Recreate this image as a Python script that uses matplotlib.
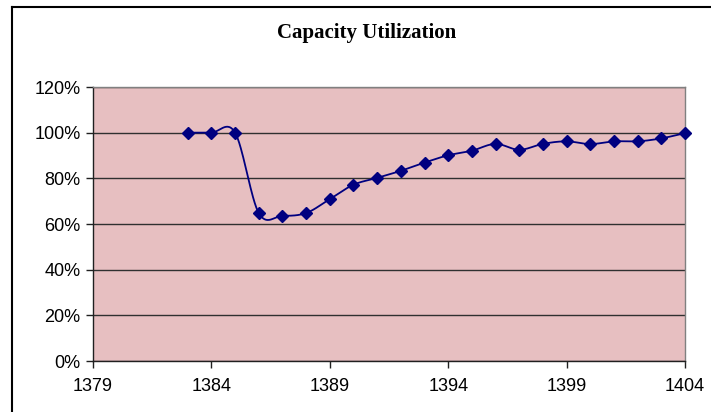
import numpy as np
import matplotlib
matplotlib.use("Agg")
import matplotlib.pyplot as plt
from matplotlib.ticker import FuncFormatter, MultipleLocator
from matplotlib.lines import Line2D

years = [1383, 1384, 1385, 1386, 1387, 1388, 1389, 1390, 1391, 1392, 1393,
         1394, 1395, 1396, 1397, 1398, 1399, 1400, 1401, 1402, 1403, 1404]
utilization = [100.0, 100.0, 100.0, 64.8, 63.6, 64.8, 70.9, 77.2, 80.2, 83.3, 86.9,
               90.1, 92.1, 95.1, 92.5, 95.1, 96.2, 95.0, 96.2, 96.2, 97.5, 99.8]
x_ticks = [1379, 1384, 1389, 1394, 1399, 1404]
title = "Capacity Utilization"


def smooth(xs, ys, n=30):
    xs = np.asarray(xs, float)
    ys = np.asarray(ys, float)
    px = np.concatenate([[xs[0]], xs, [xs[-1]]])
    py = np.concatenate([[ys[0]], ys, [ys[-1]]])
    ox, oy = [], []
    t = np.linspace(0, 1, n)
    for i in range(1, len(px) - 2):
        p0 = np.array([px[i], py[i]])
        p3 = np.array([px[i + 1], py[i + 1]])
        c1 = p0 + (np.array([px[i + 1], py[i + 1]]) - np.array([px[i - 1], py[i - 1]])) / 6
        c2 = p3 - (np.array([px[i + 2], py[i + 2]]) - np.array([px[i], py[i]])) / 6
        b = ((1 - t) ** 3)[:, None] * p0 + (3 * (1 - t) ** 2 * t)[:, None] * c1 \
            + (3 * (1 - t) * t ** 2)[:, None] * c2 + (t ** 3)[:, None] * p3
        ox.extend(b[:, 0]); oy.extend(b[:, 1])
    return np.array(ox), np.array(oy)


fig = plt.figure(figsize=(7.11, 4.12), dpi=100)
fig.patch.set_facecolor("white")

# outer chart border (only top and left edges are visible)
bx, by = 11.5 / 711, 1 - 7 / 412
fig.add_artist(Line2D([bx, 1.0], [by, by], transform=fig.transFigure,
                      color="black", linewidth=1.5))
fig.add_artist(Line2D([bx, bx], [by, 0.0], transform=fig.transFigure,
                      color="black", linewidth=1.5))

ax = fig.add_axes([93 / 711, 1 - 361 / 412, (685 - 93) / 711, (361 - 87) / 412])
ax.set_facecolor("#E7BFC1")

sx, sy = smooth(years, utilization)
ax.plot(sx, sy, color="#000080", linewidth=1.3, zorder=3, clip_on=False)
ax.plot(years, utilization, linestyle="none", marker="D", markersize=6,
        color="#000080", zorder=4, clip_on=False)

ax.set_xlim(1379, 1404)
ax.set_ylim(0, 120)
ax.set_xticks(x_ticks)
ax.set_xticklabels([str(v) for v in x_ticks])
ax.yaxis.set_major_locator(MultipleLocator(20))
ax.yaxis.set_major_formatter(FuncFormatter(lambda v, p: f"{v:.0f}%"))
ax.grid(axis="y", color="#303030", linewidth=1.0)
ax.set_axisbelow(True)

for s in ["left", "bottom"]:
    ax.spines[s].set_color("#202020")
    ax.spines[s].set_linewidth(1.0)
for s in ["top", "right"]:
    ax.spines[s].set_color("#808080")
    ax.spines[s].set_linewidth(1.0)

ax.tick_params(direction="out", length=5, width=1, color="#202020",
               labelsize=13, pad=4)
for lab in ax.get_xticklabels() + ax.get_yticklabels():
    lab.set_fontfamily("Liberation Sans")
ax.tick_params(axis="x", pad=7)

fig.text(367 / 711, 1 - 33 / 412, title, ha="center", va="center",
         fontfamily="Liberation Serif", fontweight="bold", fontsize=15)

fig.savefig("out.png", dpi=100)
